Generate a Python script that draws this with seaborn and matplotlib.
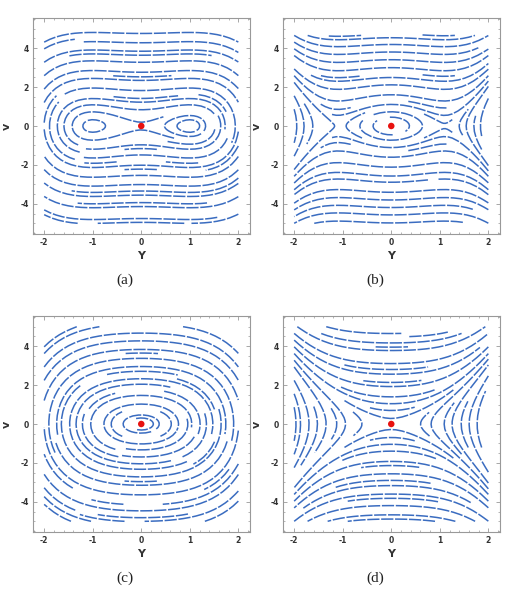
import numpy as np
import matplotlib
matplotlib.use("Agg")
import matplotlib.pyplot as plt
import seaborn as sns
from matplotlib.ticker import MultipleLocator

# Phase portraits:  Y' = v ,  v' = lin*Y + cub*Y^3
panel_tags = ["(a)", "(b)", "(c)", "(d)"]
lin_coef = [1.0, -1.56, -1.5, 1.0]
cub_coef = [-1.0, 1.29, -0.9, 1.0]
eq_Y = [0.0]
eq_v = [0.0]
x_ticks = [-2, -1, 0, 1, 2]
y_ticks = [-4, -2, 0, 2, 4]
Y_range = [-2.0, 2.0]
v_range = [-5.0, 5.0]

line_col = "#3a6cc0"
dot_col = "#e8120f"

sns.set_theme(style="ticks")
plt.rcParams["font.family"] = ["DejaVu Sans"]
plt.rcParams["axes.unicode_minus"] = False

W, H = 532, 594
fig = plt.figure(figsize=(W / 100, H / 100), dpi=100)

# axes boxes in pixels (left, top)
boxes = [(33, 18), (283, 18), (33, 316), (283, 316)]
box_w, box_h = 217, 216
tag_pos = [(125, 280), (375, 280), (125, 578), (375, 578)]

Yg = np.linspace(Y_range[0], Y_range[1], 200)
vg = np.linspace(v_range[0], v_range[1], 200)
YY, VV = np.meshgrid(Yg, vg)

for i in range(4):
    l, t = boxes[i]
    ax = fig.add_axes([l / W, 1 - (t + box_h) / H, box_w / W, box_h / H])
    U = VV
    V = lin_coef[i] * YY + cub_coef[i] * YY ** 3

    strm = ax.streamplot(Yg, vg, U, V, density=1.0, color=line_col,
                         linewidth=1.0, arrowsize=0.01, minlength=0.15,
                         broken_streamlines=True)
    segs = strm.lines.get_segments()
    strm.lines.remove()
    for patch in list(ax.patches):
        patch.remove()

    # join the pieces back into whole streamlines, then draw them dashed
    paths = []
    cur = list(segs[0])
    for s in segs[1:]:
        if np.allclose(s[0], cur[-1]):
            cur.extend(list(s[1:]))
        else:
            paths.append(np.array(cur))
            cur = list(s)
    paths.append(np.array(cur))
    for p in paths:
        ax.plot(p[:, 0], p[:, 1], color=line_col, lw=1.1,
                dashes=(8, 1.1), dash_capstyle="butt")

    sns.scatterplot(x=eq_Y, y=eq_v, color=dot_col, s=22, edgecolor="none",
                    ax=ax, zorder=5)

    ax.set_xlim(-2.23, 2.24)
    ax.set_ylim(-5.55, 5.55)
    ax.set_xticks(x_ticks)
    ax.set_yticks(y_ticks)
    ax.xaxis.set_minor_locator(MultipleLocator(0.2))
    ax.yaxis.set_minor_locator(MultipleLocator(0.5))
    ax.tick_params(which="both", direction="in", top=True, right=True,
                   color="#999999", labelsize=5.5, labelcolor="#333333", pad=3)
    ax.tick_params(which="major", length=3, width=0.6)
    ax.tick_params(which="minor", length=1.6, width=0.5)
    for lab in ax.get_xticklabels() + ax.get_yticklabels():
        lab.set_fontweight("bold")
    for sp in ax.spines.values():
        sp.set_color("#999999")
        sp.set_linewidth(0.8)
    ax.set_xlabel("Y", fontsize=8, fontweight="bold", color="#333333", labelpad=3)
    ax.set_ylabel("v", fontsize=8, fontweight="bold", color="#333333", labelpad=6)

    tx, ty = tag_pos[i]
    fig.text(tx / W, 1 - ty / H, panel_tags[i], ha="center", va="center",
             fontsize=11, family="Liberation Serif", color="#222222")

fig.savefig("out.png", dpi=100)
